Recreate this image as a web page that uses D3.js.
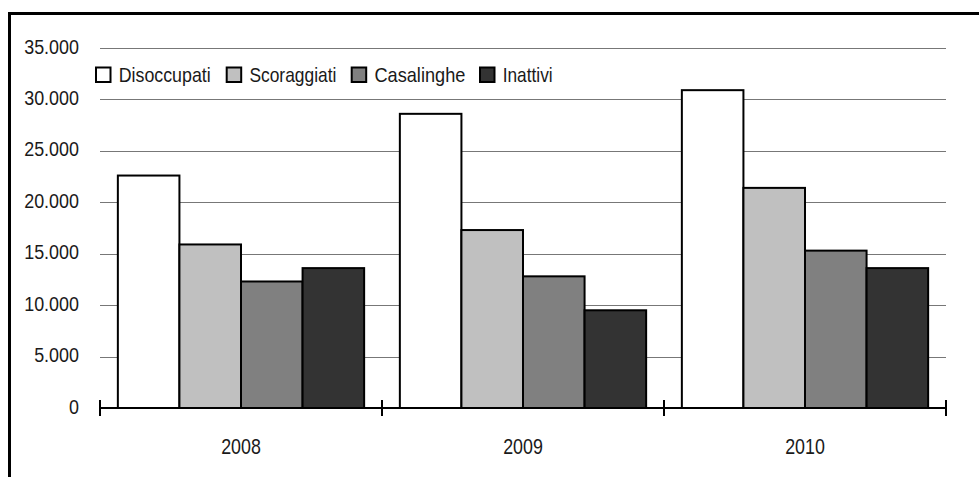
<!DOCTYPE html>
<html>
<head>
<meta charset="utf-8">
<script src="https://cdn.jsdelivr.net/npm/d3@7"></script>
<style>
  html, body { margin: 0; padding: 0; background: #fff; }
  svg { display: block; }
  text { font-family: "Liberation Sans", Arial, sans-serif; fill: #1a1a1a; }
</style>
</head>
<body>
<svg id="chart" width="979" height="477"></svg>
<script>
// ---- data ----
const years = ["2008", "2009", "2010"];
const seriesNames = ["Disoccupati", "Scoraggiati", "Casalinghe", "Inattivi"];
const disoccupati = [22600, 28600, 30900];
const scoraggiati = [15900, 17300, 21400];
const casalinghe  = [12300, 12800, 15300];
const inattivi    = [13600, 9500, 13600];
const yTicks = [0, 5000, 10000, 15000, 20000, 25000, 30000, 35000];
const seriesColors = ["#ffffff", "#c0c0c0", "#808080", "#333333"];

const seriesValues = [disoccupati, scoraggiati, casalinghe, inattivi];
const rows = years.map((y, i) => ({ year: y, values: seriesNames.map((s, j) => ({ key: s, idx: j, value: seriesValues[j][i] })) }));

const svg = d3.select("#chart");

// outer frame
svg.append("rect")
  .attr("x", 9.5).attr("y", 13.5)
  .attr("width", 1100).attr("height", 600)
  .attr("fill", "none").attr("stroke", "#000").attr("stroke-width", 3);

const plot = { left: 100, right: 946, top: 48, bottom: 408 };

const x0 = d3.scaleBand().domain(years).range([plot.left, plot.right]).paddingInner(0).paddingOuter(0);
const x1 = d3.scaleBand().domain(seriesNames).range([0, x0.bandwidth()]).paddingInner(0).paddingOuter(0.29);
const y = d3.scaleLinear().domain([0, 35000]).range([plot.bottom, plot.top]);

const fmt = v => d3.format(",")(v).replace(/,/g, ".");

// gridlines
svg.append("g")
  .selectAll("line")
  .data(yTicks.filter(t => t > 0))
  .join("line")
  .attr("x1", plot.left).attr("x2", plot.right)
  .attr("y1", d => Math.round(y(d)) + 0.5).attr("y2", d => Math.round(y(d)) + 0.5)
  .attr("stroke", "#777").attr("stroke-width", 1.2);

// y labels (condensed)
svg.append("g")
  .selectAll("text")
  .data(yTicks)
  .join("text")
  .attr("transform", d => `translate(79,${y(d) + 5.5}) scale(0.92,1)`)
  .attr("text-anchor", "end")
  .attr("font-size", 19.5)
  .text(d => fmt(d));

// bars
const groups = svg.append("g")
  .selectAll("g")
  .data(rows)
  .join("g")
  .attr("transform", d => `translate(${x0(d.year)},0)`);

groups.selectAll("rect")
  .data(d => d.values)
  .join("rect")
  .attr("x", d => x1(d.key))
  .attr("y", d => y(d.value))
  .attr("width", x1.bandwidth())
  .attr("height", d => y(0) - y(d.value))
  .attr("fill", d => seriesColors[d.idx])
  .attr("stroke", "#000")
  .attr("stroke-width", 2);

// x axis
const xAxisG = svg.append("g");
xAxisG.append("line")
  .attr("x1", plot.left).attr("x2", plot.right)
  .attr("y1", plot.bottom).attr("y2", plot.bottom)
  .attr("stroke", "#000").attr("stroke-width", 2);
const tickXs = years.map(yr => x0(yr)).concat([x0(years[years.length - 1]) + x0.bandwidth()]);
xAxisG.selectAll("line.tick")
  .data(tickXs)
  .join("line")
  .attr("class", "tick")
  .attr("x1", d => d).attr("x2", d => d)
  .attr("y1", plot.bottom - 8).attr("y2", plot.bottom + 8)
  .attr("stroke", "#000").attr("stroke-width", 2);
xAxisG.selectAll("text")
  .data(years)
  .join("text")
  .attr("transform", d => `translate(${x0(d) + x0.bandwidth() / 2},453.5) scale(0.83,1)`)
  .attr("text-anchor", "middle")
  .attr("font-size", 21.5)
  .text(d => d);

// legend
const legendX = [96, 226.7, 351.7, 480];
const legendTextW = [92, 87, 91, 50];
const legend = svg.append("g");
seriesNames.forEach((name, i) => {
  const lx = legendX[i];
  legend.append("rect")
    .attr("x", lx).attr("y", 67.5)
    .attr("width", 14.5).attr("height", 14.5)
    .attr("fill", seriesColors[i])
    .attr("stroke", "#000").attr("stroke-width", 2);
  legend.append("text")
    .attr("x", lx + 22.7).attr("y", 81.5)
    .attr("font-size", 21)
    .attr("textLength", legendTextW[i])
    .attr("lengthAdjust", "spacingAndGlyphs")
    .text(name);
});
</script>
</body>
</html>
